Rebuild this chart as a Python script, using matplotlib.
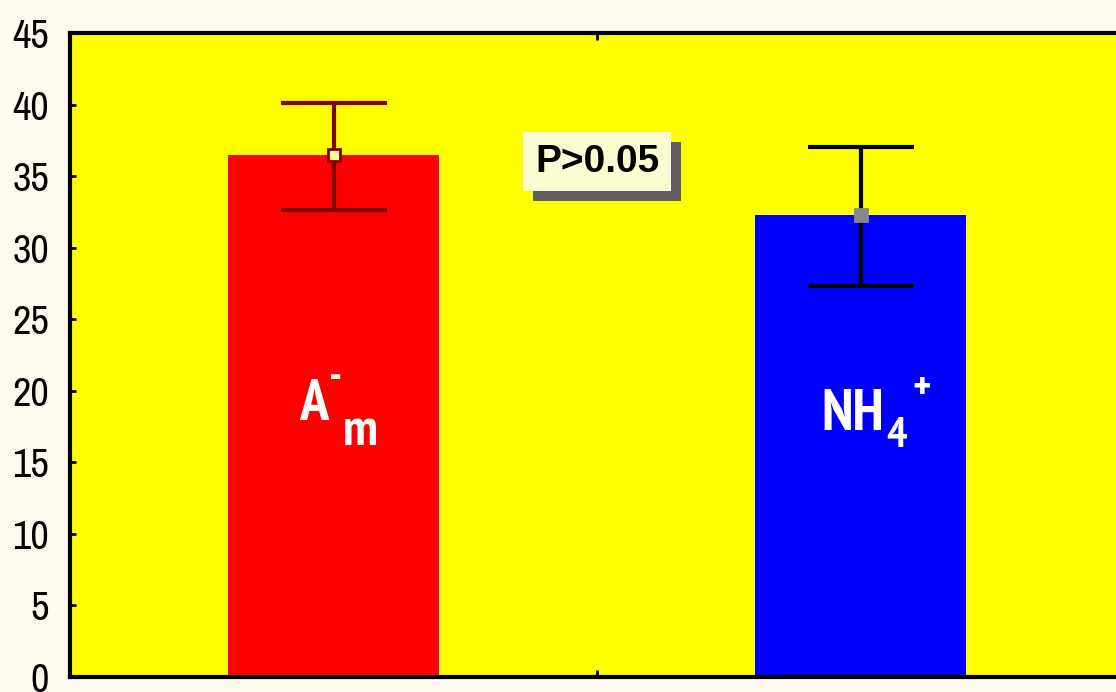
import matplotlib
matplotlib.use('Agg')
import matplotlib.pyplot as plt
import matplotlib.patheffects as pe

# Данные: средние значения и границы доверительных интервалов
positions = [1, 2]
means = [36.5, 32.3]
err_low = [32.6, 27.3]
err_high = [40.1, 37.0]
bar_colors = ['#FF0000', '#0000FF']
err_colors = ['#800000', '#000000']
marker_faces = ['#FFFF99', '#888888']
marker_edges = ['#800000', '#888888']
yticks = [0, 5, 10, 15, 20, 25, 30, 35, 40, 45]
p_label = 'P>0.05'

plt.rcParams['font.family'] = ['Liberation Sans', 'DejaVu Sans']
narrow = ['PT Sans Narrow', 'DejaVu Sans']
tick_font = ['Archivo Narrow', 'PT Sans Narrow', 'DejaVu Sans']

fig = plt.figure(figsize=(11.16, 6.92), dpi=100, facecolor='#FEF9EF')
ax = fig.add_axes([70 / 1116, 15 / 692, 1054 / 1116, 644 / 692])
ax.set_facecolor('#FFFF00')

ax.bar(positions, means, width=0.4, color=bar_colors, zorder=2)

for x, m, lo, hi, ec, fc, mc in zip(positions, means, err_low, err_high,
                                     err_colors, marker_faces, marker_edges):
    ax.errorbar([x], [m], yerr=[[m - lo], [hi - m]], fmt='none', ecolor=ec,
                elinewidth=3, capsize=38, capthick=3, zorder=3)
    ax.plot([x], [m], marker='s', markersize=9, markerfacecolor=fc,
            markeredgecolor=mc, markeredgewidth=2, zorder=4)

ax.set_xlim(0.5, 2.5)
ax.set_ylim(0, 45)
ax.set_yticks(yticks)
ax.set_xticks([1.5])
ax.set_xticklabels([])
ax.tick_params(axis='y', direction='in', length=4, width=2, labelsize=29, pad=15, right=False)
ax.tick_params(axis='x', direction='in', length=5, width=2, top=True, bottom=True)
for lbl in ax.get_yticklabels():
    lbl.set_family(tick_font)
    lbl.set_stretch('condensed')
for s in ax.spines.values():
    s.set_linewidth(3)

# Подписи внутри столбиков
lab = dict(color='white', fontweight='bold', family=narrow, fontstretch='condensed',
           textcoords='offset points', va='baseline', zorder=5)
ax.annotate('A', (positions[0], 20), xytext=(-25, -21), fontsize=42, ha='left', **lab)
ax.annotate('-', (positions[0], 20), xytext=(1.5, 1), fontsize=32, ha='center', **lab)
ax.annotate('m', (positions[0], 20), xytext=(7, -39), fontsize=38, ha='left', **lab)
ax.annotate('NH', (positions[1], 20), xytext=(-28, -28), fontsize=42, ha='left', **lab)
ax.annotate('4', (positions[1], 20), xytext=(18.5, -40.5), fontsize=31, ha='left', **lab)
ax.annotate('+', (positions[1], 20), xytext=(44, -7), fontsize=30, ha='center', **lab)

# Рамка с уровнем значимости и тенью
t = ax.text(1.5, 36.0, p_label, fontsize=28, fontweight='bold', ha='center', va='center',
            bbox=dict(boxstyle='square,pad=0.3', facecolor='#FCFCD2', edgecolor='none'), zorder=6)
t.get_bbox_patch().set_path_effects([
    pe.SimplePatchShadow(offset=(7, -7), shadow_rgbFace='#5F5F5F', alpha=1),
    pe.Normal()])

fig.savefig('out.png', dpi=100, facecolor=fig.get_facecolor())
